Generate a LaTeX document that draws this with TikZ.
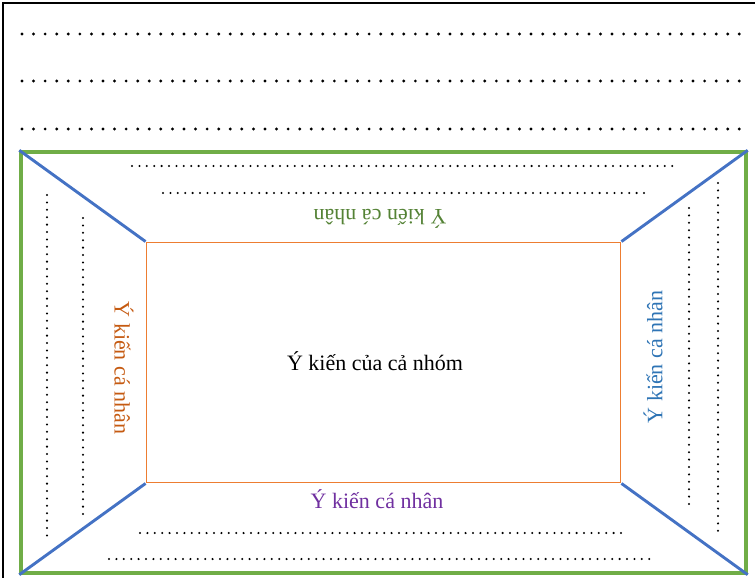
\documentclass[tikz,border=0pt]{standalone}
\usepackage{fontspec}
\setmainfont{Liberation Serif}
\usetikzlibrary{positioning}

\definecolor{vienxanhla}{HTML}{70AD47}
\definecolor{cheoxanh}{HTML}{4472C4}
\definecolor{viencam}{HTML}{ED7D31}
\definecolor{chuxanhla}{HTML}{548235}
\definecolor{chucam}{HTML}{C55A11}
\definecolor{chuxanh}{HTML}{2E74B5}
\definecolor{chutim}{HTML}{7030A0}

\begin{document}
\begin{tikzpicture}[x=1pt,y=-1pt,
            khung node/.style={draw=vienxanhla,line width=3.4pt,minimum width=725pt,minimum height=421pt,inner sep=0pt},
            nhom node/.style={draw=viencam,line width=1.9pt,minimum width=474pt,minimum height=240pt,inner sep=0pt},
            cheo line/.style={draw=cheoxanh,line width=2.9pt},
            cham lon/.style={line width=3.2pt,line cap=round,dash pattern=on 0pt off 11.57pt},
            cham nho/.style={line width=2.3pt,line cap=round,dash pattern=on 0pt off 7.4pt},
            chu node/.style={font=\fontsize{22}{24}\selectfont}]

        \useasboundingbox (0,0) rectangle (755,578);
        \draw[line width=2.8pt] (3,578) -- (3,3) -- (755,3);

        % dong cham phia tren
        \foreach \y in {34,81,129}
            \draw[cham lon] (22,\y) -- (749,\y);

        \node[khung node] (khung) at (383.5,362.5) {};
        \node[nhom node] (nhom) at (khung.center) {};

        \foreach \g in {north west,north east,south west,south east}
            \draw[cheo line] (khung.\g) -- (nhom.\g);

        \node[chu node] (caNhom) at (375,361) {Ý kiến của cả nhóm};
        \node[chu node,text=chuxanhla,rotate=180] (yTren) at (380,219) {Ý kiến cá nhân};
        \node[chu node,text=chucam,rotate=-90] (yTrai) at (124,368) {Ý kiến cá nhân};
        \node[chu node,text=chuxanh,rotate=90] (yPhai) at (653,357) {Ý kiến cá nhân};
        \node[chu node,text=chutim] (yDuoi) at (377,499) {Ý kiến cá nhân};

        % dong cham nho
        \draw[cham nho] (132,166) -- (676,166);
        \draw[cham nho] (163,193) -- (646,193);
        \draw[cham nho] (140,533) -- (623,533);
        \draw[cham nho] (109,559) -- (653,559);
        \draw[cham nho] (47,195) -- (47,539);
        \draw[cham nho] (83,218) -- (83,518);
        \draw[cham nho] (689,208) -- (689,509);
        \draw[cham nho] (718,183) -- (718,531);

    \end{tikzpicture}
\end{document}
